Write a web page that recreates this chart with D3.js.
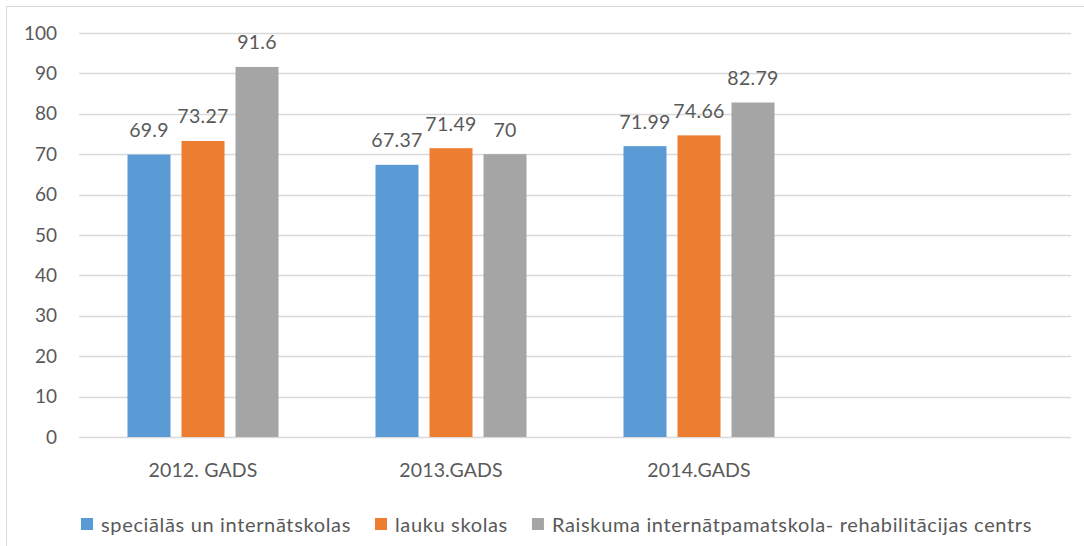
<!DOCTYPE html>
<html>
<head>
<meta charset="utf-8">
<script src="https://cdn.jsdelivr.net/npm/d3@7"></script>
<style>
  body { margin: 0; background: #fff; }
  text { font-family: Lato, "Open Sans", sans-serif; fill: #595959; }
</style>
</head>
<body>
<div class="chart"></div>
<script>
var categories = ["2012. GADS", "2013.GADS", "2014.GADS", ""];
var seriesNames = ["speciālās un internātskolas", "lauku skolas", "Raiskuma internātpamatskola- rehabilitācijas centrs"];
var specialValues = [69.9, 67.37, 71.99];
var laukuValues = [73.27, 71.49, 74.66];
var raiskumaValues = [91.6, 70, 82.79];
var yTicks = [0, 10, 20, 30, 40, 50, 60, 70, 80, 90, 100];

var colors = ["#5b9bd5", "#ed7d31", "#a5a5a5"];
var seriesValues = [specialValues, laukuValues, raiskumaValues];

var svgWidth = 1084;
var svgHeight = 546;

var svg = d3.select(".chart")
  .append("svg")
  .attr("width", svgWidth)
  .attr("height", svgHeight);

// chart frame
svg.append("rect")
  .attr("x", 6.5)
  .attr("y", 6.5)
  .attr("width", 1200)
  .attr("height", 600)
  .attr("fill", "none")
  .attr("stroke", "#d9d9d9");

var plot = { left: 79, right: 1071, top: 33, bottom: 437 };

var x0 = d3.scaleBand()
  .domain(categories)
  .range([plot.left, plot.right]);

// 3 bars of 43px with 11px gaps inside a 248px band
var x1 = d3.scaleBand()
  .domain(d3.range(seriesNames.length))
  .range([0, x0.bandwidth()])
  .paddingInner(0.2037)
  .paddingOuter(0.898);

var y = d3.scaleLinear()
  .domain([0, 100])
  .range([plot.bottom, plot.top]);

// gridlines
svg.append("g")
  .selectAll("line")
  .data(yTicks)
  .enter()
  .append("line")
  .attr("x1", plot.left)
  .attr("x2", plot.right)
  .attr("y1", d => Math.round(y(d)) + 0.5)
  .attr("y2", d => Math.round(y(d)) + 0.5)
  .attr("stroke", "#d9d9d9")
  .attr("stroke-width", 1.4);

// y axis labels
var leftAxis = d3.axisLeft(y).tickValues(yTicks).tickSize(0).tickPadding(0);
var yAxisG = svg.append("g")
  .attr("transform", `translate(57, 0)`)
  .call(leftAxis);
yAxisG.select(".domain").remove();
yAxisG.selectAll("text")
  .attr("font-size", 19)
  .attr("font-family", "Lato")
  .attr("fill", "#595959");

// x axis labels
var bottomAxis = d3.axisBottom(x0).tickSize(0).tickPadding(0);
var xAxisG = svg.append("g")
  .attr("transform", `translate(0, 463)`)
  .call(bottomAxis);
xAxisG.select(".domain").remove();
xAxisG.selectAll("text")
  .attr("font-size", 19.5)
  .attr("letter-spacing", 0.15)
  .attr("font-family", "Lato")
  .attr("fill", "#595959");

// bars
var rows = [];
seriesValues.forEach(function (vals, s) {
  vals.forEach(function (v, i) {
    rows.push({ cat: categories[i], s: s, value: v });
  });
});

svg.append("g")
  .selectAll("rect")
  .data(rows)
  .enter()
  .append("rect")
  .attr("x", d => x0(d.cat) + x1(d.s))
  .attr("y", d => y(d.value))
  .attr("width", x1.bandwidth())
  .attr("height", d => y(0) - y(d.value))
  .attr("fill", d => colors[d.s]);

// data labels
svg.append("g")
  .selectAll("text")
  .data(rows)
  .enter()
  .append("text")
  .attr("x", d => x0(d.cat) + x1(d.s) + x1.bandwidth() / 2)
  .attr("y", d => y(d.value) - 17.5)
  .attr("text-anchor", "middle")
  .attr("font-size", 19.5)
  .attr("letter-spacing", 0.3)
  .text(d => d.value);

// legend
var legend = svg.append("g").attr("transform", "translate(81, 528)");
var lx = 0;
seriesNames.forEach(function (name, s) {
  var item = legend.append("g").attr("transform", `translate(${lx}, 0)`);
  item.append("rect")
    .attr("x", 0)
    .attr("y", -10)
    .attr("width", 12)
    .attr("height", 12)
    .attr("fill", colors[s]);
  var t = item.append("text")
    .attr("x", 20)
    .attr("y", 4)
    .attr("font-size", 20)
    .attr("letter-spacing", 0.65)
    .text(name);
  lx += 20 + t.node().getComputedTextLength() + 24;
});
</script>
</body>
</html>
